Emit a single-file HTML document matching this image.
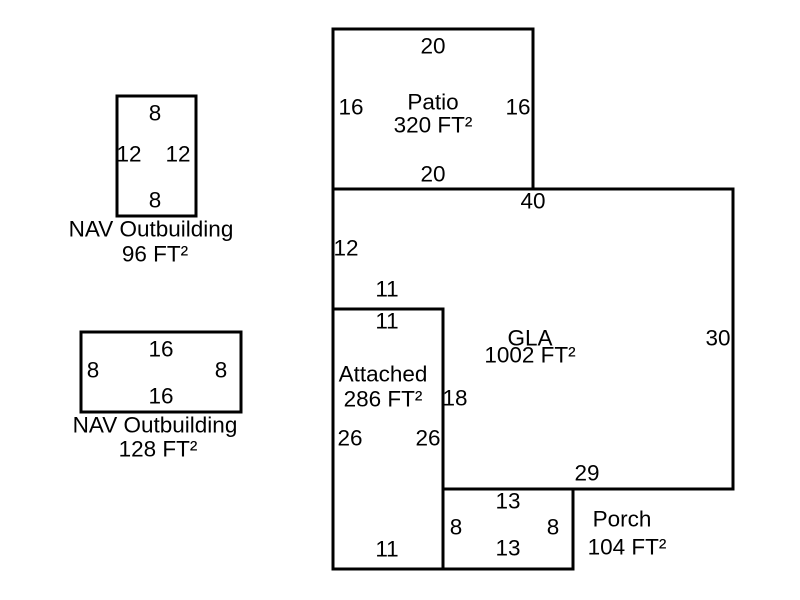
<!DOCTYPE html>
<html><head><meta charset="utf-8"><style>
html,body{margin:0;padding:0;background:#fff;}
svg{display:block}
text{font-family:"Liberation Sans",Arial,sans-serif;font-size:22.5px;fill:#000;text-anchor:middle;dominant-baseline:central}
</style></head><body>
<svg width="800" height="600" viewBox="0 0 800 600">
<g fill="none" stroke="#000" stroke-width="3">
<rect x="117" y="96" width="79" height="120"/>
<rect x="81" y="332" width="160" height="80"/>
<rect x="333" y="29" width="200" height="160"/>
<polygon points="333,189 733,189 733,489 443,489 443,309 333,309"/>
<rect x="333" y="309" width="110" height="260"/>
<rect x="443" y="489" width="130" height="80"/>
</g>
<text x="155" y="113">8</text>
<text x="129" y="154">12</text>
<text x="178" y="154">12</text>
<text x="155" y="200">8</text>
<text x="151" y="229">NAV Outbuilding</text>
<text x="155" y="254">96 FT²</text>
<text x="161" y="349">16</text>
<text x="93" y="370">8</text>
<text x="221" y="370">8</text>
<text x="161" y="396">16</text>
<text x="155" y="425">NAV Outbuilding</text>
<text x="158" y="449">128 FT²</text>
<text x="433" y="46">20</text>
<text x="351" y="107">16</text>
<text x="518" y="107">16</text>
<text x="433" y="102">Patio</text>
<text x="433" y="125">320 FT²</text>
<text x="433" y="174">20</text>
<text x="533" y="201">40</text>
<text x="346" y="248">12</text>
<text x="387" y="289">11</text>
<text x="387" y="321">11</text>
<text x="530" y="338">GLA</text>
<text x="530" y="355">1002 FT²</text>
<text x="718" y="338">30</text>
<text x="383" y="374">Attached</text>
<text x="383" y="399">286 FT²</text>
<text x="455" y="398">18</text>
<text x="350" y="438">26</text>
<text x="428" y="438">26</text>
<text x="587" y="473">29</text>
<text x="508" y="501">13</text>
<text x="456" y="527">8</text>
<text x="553" y="527">8</text>
<text x="622" y="519">Porch</text>
<text x="627" y="547">104 FT²</text>
<text x="508" y="548">13</text>
<text x="387" y="549">11</text>
</svg>
</body></html>
